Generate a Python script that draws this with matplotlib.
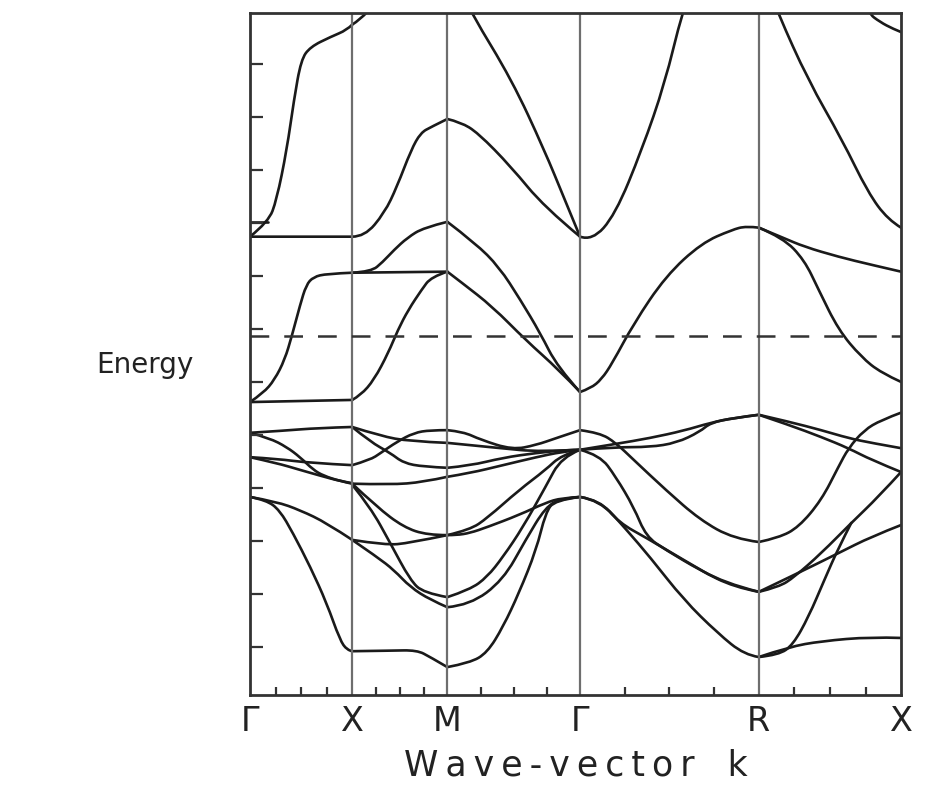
import matplotlib.pyplot as plt
from matplotlib.path import Path
from matplotlib.patches import PathPatch

# high-symmetry points along the path (arbitrary k units)
k_points = [0.0, 1.02, 1.97, 3.295, 5.08, 6.50]
k_labels = ["Γ", "X", "M", "Γ", "R", "X"]

# energy of the dashed level (arbitrary units, ticks 1 unit apart)
e_dashed = 5.87

# each band piece: (fraction along segment, energies)
seg_gx = [
    ([0, 0.5, 1], [4.62, 4.64, 4.66]),
    ([0, 0.13, 0.24, 0.34, 0.41, 0.49, 0.55, 0.62, 0.75, 1.0],
     [4.62, 4.79, 5.04, 5.42, 5.87, 6.45, 6.83, 6.98, 7.04, 7.06]),
    ([0, 0.5, 1], [7.74, 7.74, 7.74]),
    ([0, 0.18, 0.26, 0.36, 0.43, 0.50, 0.59, 0.79, 0.95, 1.0],
     [7.74, 8.02, 8.43, 9.38, 10.32, 11.08, 11.32, 11.51, 11.64, 11.74]),
    ([0, 0.18], [8.02, 8.02]),
    ([0, 0.33, 0.66, 1.0], [4.04, 4.08, 4.13, 4.15]),
    ([0, 0.19, 0.36, 0.49, 0.62, 0.72, 0.88, 1.0],
     [4.04, 3.94, 3.77, 3.58, 3.34, 3.23, 3.13, 3.08]),
    ([0, 0.26, 0.59, 1.0], [3.58, 3.55, 3.47, 3.43]),
    ([0, 0.26, 0.49, 0.69, 0.88, 1.0], [3.58, 3.47, 3.34, 3.23, 3.13, 3.09]),
    ([0, 0.26, 0.49, 0.75, 1.0], [2.83, 2.74, 2.58, 2.34, 2.02]),
    ([0, 0.16, 0.29, 0.42, 0.59, 0.75, 0.88, 0.95, 1.0],
     [2.83, 2.77, 2.58, 2.15, 1.51, 0.83, 0.13, -0.06, -0.08]),
]

seg_xm = [
    ([0, 0.09, 0.23, 0.38, 0.48, 0.59, 0.73, 0.83, 1.0],
     [4.66, 4.75, 5.04, 5.55, 5.98, 6.36, 6.74, 6.98, 7.08]),
    ([0, 0.5, 1.0], [7.06, 7.07, 7.08]),
    ([0, 0.2, 0.32, 0.44, 0.58, 0.75, 1.0], [7.06, 7.08, 7.26, 7.49, 7.72, 7.91, 8.02]),
    ([0, 0.13, 0.34, 0.47, 0.62, 0.72, 0.83, 1.0],
     [7.74, 7.74, 8.19, 8.68, 9.38, 9.70, 9.81, 9.96]),
    ([0, 0.16, 0.35], [11.74, 11.92, 12.4]),
    ([0, 0.19, 0.40, 0.54, 0.75, 1.0], [4.15, 3.87, 3.66, 3.47, 3.40, 3.38]),
    ([0, 0.19, 0.30, 0.47, 0.65, 0.82, 1.0], [3.43, 3.53, 3.66, 3.87, 4.04, 4.09, 4.09]),
    ([0, 0.3, 0.6, 1.0], [4.15, 3.98, 3.88, 3.85]),
    ([0, 0.4, 0.75, 1.0], [3.08, 3.06, 3.11, 3.21]),
    ([0, 0.26, 0.54, 0.79, 1.0], [3.08, 2.64, 2.26, 2.11, 2.11]),
    ([0, 0.19, 0.40, 0.61, 0.75, 1.0], [3.06, 2.64, 1.96, 1.26, 1.02, 0.94]),
    ([0, 0.35, 0.6, 1.0], [2.02, 1.92, 1.96, 2.11]),
    ([0, 0.26, 0.44, 0.61, 0.82, 1.0], [2.02, 1.70, 1.45, 1.13, 0.89, 0.75]),
    ([0, 0.4, 0.68, 0.82, 1.0], [-0.08, -0.07, -0.06, -0.19, -0.38]),
]

seg_mg = [
    ([0, 0.08, 0.18, 0.485, 0.73, 0.886, 1.0], [12.7, 12.5, 11.96, 10.70, 9.38, 8.43, 7.74]),
    ([0, 0.1, 0.23, 0.48, 0.73, 1.0], [9.96, 9.90, 9.70, 9.06, 8.30, 7.74]),
    ([0, 0.21, 0.39, 0.55, 0.70, 0.83, 1.0], [8.02, 7.62, 7.17, 6.55, 5.92, 5.28, 4.81]),
    ([0, 0.11, 0.34, 0.59, 0.84, 1.0], [7.08, 6.87, 6.42, 5.79, 5.23, 4.81]),
    ([0, 0.12, 0.25, 0.49, 0.67, 0.82, 1.0], [4.09, 4.06, 3.91, 3.72, 3.81, 3.94, 4.09]),
    ([0, 0.4, 0.7, 1.0], [3.85, 3.75, 3.68, 3.72]),
    ([0, 0.17, 0.42, 0.67, 0.91, 1.0], [3.38, 3.42, 3.57, 3.66, 3.72, 3.72]),
    ([0, 0.17, 0.42, 0.67, 0.86, 1.0], [3.21, 3.28, 3.43, 3.58, 3.68, 3.72]),
    ([0, 0.07, 0.17, 0.30, 0.54, 0.74, 0.86, 1.0], [2.11, 2.11, 2.15, 2.26, 2.49, 2.72, 2.81, 2.83]),
    ([0, 0.17, 0.30, 0.54, 0.74, 0.86, 1.0], [2.11, 2.21, 2.43, 2.96, 3.34, 3.62, 3.72]),
    ([0, 0.17, 0.30, 0.42, 0.57, 0.74, 0.86, 1.0], [0.94, 1.08, 1.32, 1.70, 2.26, 3.02, 3.58, 3.72]),
    ([0, 0.17, 0.42, 0.59, 0.74, 0.86, 1.0], [0.75, 0.79, 1.26, 2.02, 2.64, 2.80, 2.83]),
    ([0, 0.17, 0.30, 0.42, 0.54, 0.67, 0.74, 0.81, 1.0],
     [-0.38, -0.30, -0.11, 0.38, 1.02, 1.83, 2.53, 2.77, 2.83]),
]

seg_gr = [
    ([0, 0.06, 0.12, 0.18, 0.3, 0.48, 0.68, 0.85, 0.93, 1.0],
     [4.81, 4.88, 5.05, 5.35, 6.1, 7.0, 7.62, 7.87, 7.94, 7.91]),
    ([0, 0.067, 0.196, 0.346, 0.475, 0.57, 0.65], [7.74, 7.66, 8.15, 9.38, 10.64, 11.96, 12.8]),
    ([0, 0.2, 0.39, 0.58, 0.73, 0.86, 1.0], [3.72, 3.83, 3.94, 4.08, 4.23, 4.32, 4.38]),
    ([0, 0.2, 0.39, 0.54, 0.67, 0.73, 0.86, 1.0], [3.72, 3.77, 3.77, 3.85, 4.06, 4.23, 4.32, 4.38]),
    ([0, 0.11, 0.2, 0.3, 0.48, 0.67, 0.86, 1.0], [4.09, 4.04, 3.85, 3.53, 2.96, 2.40, 2.04, 1.98]),
    ([0, 0.11, 0.2, 0.3, 0.37, 0.48, 0.67, 0.86, 1.0], [3.72, 3.62, 3.21, 2.64, 2.08, 1.83, 1.45, 1.13, 1.04]),
    ([0, 0.11, 0.22, 0.37, 0.58, 0.8, 1.0], [2.83, 2.77, 2.34, 2.06, 1.64, 1.21, 1.04]),
    ([0, 0.11, 0.26, 0.39, 0.58, 0.77, 0.92, 1.0], [2.83, 2.77, 2.21, 1.70, 0.89, 0.26, -0.15, -0.19]),
]

seg_rx = [
    ([0, 0.17, 0.32, 0.56, 0.79, 1.0], [7.91, 7.72, 7.55, 7.36, 7.21, 7.08]),
    ([0, 0.17, 0.32, 0.42, 0.56, 0.72, 0.86, 1.0], [7.91, 7.72, 7.30, 6.74, 5.98, 5.47, 5.17, 5.0]),
    ([0, 0.06, 0.134, 0.345, 0.585, 0.768, 0.908, 1.0], [12.9, 12.5, 11.96, 10.70, 9.57, 8.57, 8.06, 7.91]),
    ([0.72, 0.768, 0.852, 0.944, 1.0], [12.3, 11.96, 11.79, 11.66, 11.60]),
    ([0, 0.21, 0.44, 0.63, 0.79, 1.0], [4.38, 4.25, 4.09, 3.94, 3.85, 3.75]),
    ([0, 0.21, 0.44, 0.63, 0.79, 1.0], [4.38, 4.19, 3.96, 3.75, 3.53, 3.30]),
    ([0, 0.14, 0.28, 0.44, 0.56, 0.63, 0.74, 0.86, 1.0], [1.98, 2.06, 2.26, 2.77, 3.40, 3.75, 4.09, 4.28, 4.42]),
    ([0, 0.14, 0.25, 0.44, 0.65, 0.84, 1.0], [1.04, 1.13, 1.32, 1.77, 2.34, 2.83, 3.30]),
    ([0, 0.25, 0.56, 0.79, 1.0], [1.04, 1.36, 1.77, 2.08, 2.30]),
    ([0, 0.21, 0.44, 0.79, 1.0], [-0.19, 0.0, 0.11, 0.19, 0.17]),
    ([0, 0.14, 0.24, 0.35, 0.46, 0.56, 0.65], [-0.19, -0.15, 0.04, 0.57, 1.26, 1.87, 2.34]),
]

segments = [seg_gx, seg_xm, seg_mg, seg_gr, seg_rx]


def smooth_path(xs, ys):
    # quadratic bezier through midpoints, so the curve stays smooth
    verts = [(xs[0], ys[0])]
    codes = [Path.MOVETO]
    n = len(xs)
    if n == 2:
        verts.append((xs[1], ys[1]))
        codes.append(Path.LINETO)
        return Path(verts, codes)
    for i in range(1, n - 1):
        if i == n - 2:
            end = (xs[n - 1], ys[n - 1])
        else:
            end = ((xs[i] + xs[i + 1]) / 2, (ys[i] + ys[i + 1]) / 2)
        verts += [(xs[i], ys[i]), end]
        codes += [Path.CURVE3, Path.CURVE3]
    return Path(verts, codes)


fig = plt.figure(figsize=(9.35, 7.96), dpi=100)
ax = fig.add_axes([0.2674, 0.1269, 0.6963, 0.8568])

for s, bands in enumerate(segments):
    k0, k1 = k_points[s], k_points[s + 1]
    for t, e in bands:
        ks = [k0 + ti * (k1 - k0) for ti in t]
        ax.add_patch(PathPatch(smooth_path(ks, e), fill=False, color="#1a1a1a", lw=1.9,
                               capstyle="round", joinstyle="round"))

for kp in k_points[1:-1]:
    ax.axvline(kp, color="#6e6e6e", lw=1.6)

ax.axhline(e_dashed, color="#333333", lw=1.8, dashes=(7.5, 6))

ax.set_xlim(k_points[0], k_points[-1])
ax.set_ylim(-0.906, 11.96)

ax.set_yticks(range(0, 12))
ax.set_yticklabels([])
ax.tick_params(axis="y", direction="in", length=9, width=1.6, color="#333333")

ax.set_xticks(k_points)
ax.set_xticklabels(k_labels, fontsize=24)
ax.tick_params(axis="x", length=0, pad=7, labelcolor="#222222")
minor = []
for s in range(5):
    for q in (0.25, 0.5, 0.75):
        minor.append(k_points[s] + q * (k_points[s + 1] - k_points[s]))
ax.set_xticks(minor, minor=True)
ax.tick_params(axis="x", which="minor", direction="in", length=6, width=1.6, color="#333333")

for sp in ax.spines.values():
    sp.set_linewidth(2.0)
    sp.set_color("#333333")

thin = "\u2009"
xlabel = thin.join("Wave-vector") + "   k"
ax.set_xlabel(xlabel, fontsize=25, labelpad=8, color="#222222")
fig.text(0.155, 1 - 365 / 796, "Energy", fontsize=20, ha="center", va="center", color="#222222")

fig.savefig("out.png", dpi=100)
